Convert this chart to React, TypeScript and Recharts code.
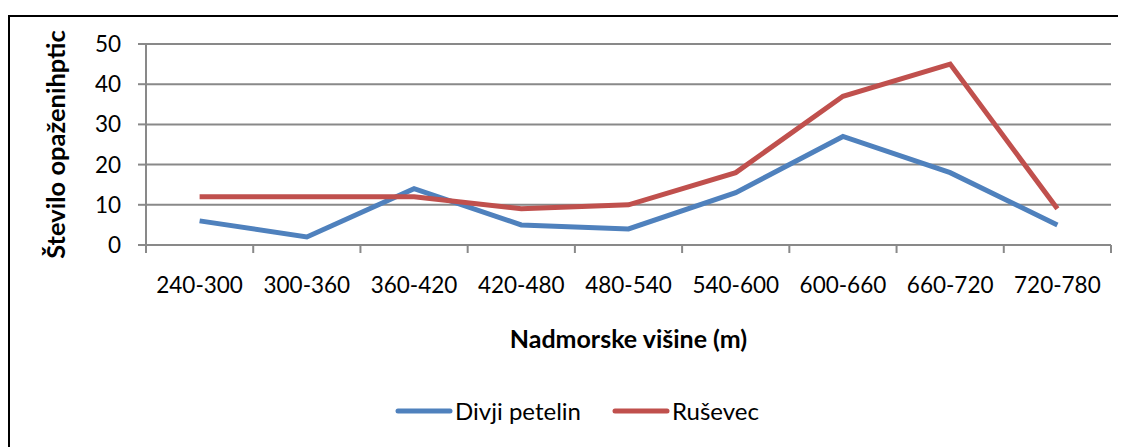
import React from "react";
import {
  LineChart,
  Line,
  XAxis,
  YAxis,
  CartesianGrid,
  Legend,
} from "recharts";

const altitudes = [
  "240-300",
  "300-360",
  "360-420",
  "420-480",
  "480-540",
  "540-600",
  "600-660",
  "660-720",
  "720-780",
];
const divjiPetelin = [6, 2, 14, 5, 4, 13, 27, 18, 5];
const rusevec = [12, 12, 12, 9, 10, 18, 37, 45, 9];
const yTicks = [0, 10, 20, 30, 40, 50];

const data = altitudes.map((a, i) => ({
  name: a,
  divji: divjiPetelin[i],
  rusevec: rusevec[i],
}));

const W = 1118;
const H = 439;
const MARGIN = { top: 36, right: 15, left: 0, bottom: 52 };
const Y_W = 138;
const HALF_BAND = (W - Y_W - MARGIN.right) / altitudes.length / 2;
const FONT = "Lato, 'Open Sans', sans-serif";
const GRID = "#898989";

function XTick(props: any) {
  const { x, y, payload, index } = props;
  const last = index === altitudes.length - 1;
  return (
    <g>
      <line x1={x - HALF_BAND} x2={x - HALF_BAND} y1={y - 8} y2={y} stroke={GRID} strokeWidth={2} />
      {last && (
        <line x1={x + HALF_BAND} x2={x + HALF_BAND} y1={y - 8} y2={y} stroke={GRID} strokeWidth={2} />
      )}
      <text x={x} y={y + 40} textAnchor="middle" fontSize={22.5} fill="#000" fontFamily={FONT}>
        {payload.value}
      </text>
    </g>
  );
}

function LegendBox() {
  const items = [
    { label: "Divji petelin", color: "#4F81BD" },
    { label: "Ruševec", color: "#C0504D" },
  ];
  return (
    <div
      style={{
        display: "flex",
        justifyContent: "center",
        gap: 31,
        paddingLeft: 20,
        fontFamily: FONT,
        fontSize: 24,
      }}
    >
      {items.map((it) => (
        <div key={it.label} style={{ display: "flex", alignItems: "center" }}>
          <svg width={58} height={10}>
            <line x1={3} x2={55} y1={5} y2={5} stroke={it.color} strokeWidth={5} strokeLinecap="round" />
          </svg>
          <span style={{ marginLeft: 2 }}>{it.label}</span>
        </div>
      ))}
    </div>
  );
}

export default function App() {
  return (
    <div style={{ position: "relative", width: W, height: H, overflow: "hidden", background: "#fff" }}>
      <div
        style={{
          position: "absolute",
          left: 0,
          top: 7,
          width: W + 40,
          height: H + 40,
          border: "2px solid #000",
        }}
      />
      <div style={{ position: "absolute", left: 0, top: 0 }}>
        <LineChart width={W} height={H} data={data} margin={MARGIN}>
          <CartesianGrid vertical={false} stroke={GRID} strokeWidth={2} />
          <XAxis
            dataKey="name"
            stroke={GRID}
            strokeWidth={2}
            tickLine={false}
            tick={<XTick />}
            height={120}
            interval={0}
            padding={{ left: HALF_BAND, right: HALF_BAND }}
            label={{
              value: "Nadmorske višine (m)",
              position: "insideBottom",
              offset: 17,
              fontSize: 25,
              fontWeight: "bold",
              fill: "#000",
              fontFamily: FONT,
            }}
          />
          <YAxis
            width={Y_W}
            domain={[0, 50]}
            ticks={yTicks}
            stroke={GRID}
            strokeWidth={2}
            tickSize={8}
            tickMargin={17}
            tick={{ fontSize: 22.5, fill: "#000", fontFamily: FONT }}
            label={{
              value: "Število opaženihptic",
              angle: -90,
              position: "insideLeft",
              offset: 48,
              style: { textAnchor: "middle" },
              fontSize: 25.5,
              fontWeight: "bold",
              fill: "#000",
              fontFamily: FONT,
            }}
          />
          <Legend
            verticalAlign="bottom"
            content={<LegendBox />}
            wrapperStyle={{ position: "absolute", top: 388, left: 0, width: W, height: 30 }}
          />
          <Line
            type="linear"
            dataKey="divji"
            name="Divji petelin"
            stroke="#4F81BD"
            strokeWidth={5}
            dot={false}
            isAnimationActive={false}
          />
          <Line
            type="linear"
            dataKey="rusevec"
            name="Ruševec"
            stroke="#C0504D"
            strokeWidth={5}
            dot={false}
            isAnimationActive={false}
          />
        </LineChart>
      </div>
    </div>
  );
}
